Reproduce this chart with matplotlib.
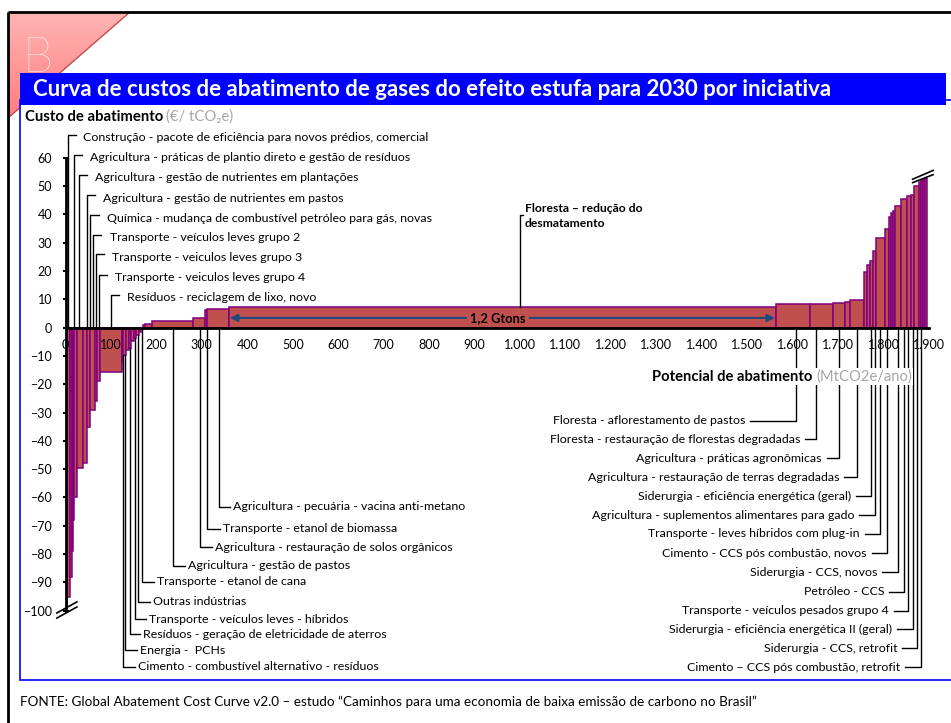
import numpy as np
import matplotlib.pyplot as plt
from matplotlib.patches import Rectangle, Polygon
from matplotlib.colors import to_rgb
from matplotlib.ticker import FuncFormatter

plt.rcParams['font.family'] = ['Lato', 'DejaVu Sans']

# --- data (MtCO2e/ano widths, €/tCO2e costs) ---
widths = [3, 7, 4, 2, 3, 6, 13, 9, 7, 11, 4, 8, 47, 3, 6, 6, 5, 6, 5, 7, 4, 5,
          4, 15, 91, 26, 5, 48, 1203, 76, 49, 27, 12, 31,
          6, 7, 6, 6, 21, 8, 4, 4, 6, 12, 14, 8, 8, 10, 5, 4, 4, 4]
costs = [-99, -95, -88, -79, -68, -60, -49.5, -47.7, -35, -29, -26, -18.7, -15.8,
         -12.2, -9.6, -7.9, -7.3, -4.9, -3.8, -2.6, -1.5, -0.6,
         0.8, 1.3, 2.3, 3.3, 6.2, 6.6, 7.2, 8.3, 8.5, 8.8, 9.2, 9.6,
         19.7, 22, 23.6, 27.1, 31.8, 34.9, 39, 40.4, 41, 43.1, 45.5, 46.3, 46.9,
         50.1, 51.5, 52, 52.5, 53]

top_labels = ['Construção - pacote de eficiência para novos prédios, comercial',
              'Agricultura - práticas de plantio direto e gestão de resíduos',
              'Agricultura - gestão de nutrientes em plantações',
              'Agricultura - gestão de nutrientes em pastos',
              'Química - mudança de combustível petróleo para gás, novas',
              'Transporte - veículos leves grupo 2',
              'Transporte - veiculos leves grupo 3',
              'Transporte - veiculos leves grupo 4',
              'Resíduos - reciclagem de lixo, novo']
top_x = [6, 19, 29, 47, 55, 60, 67, 73, 100]
top_tx = [38, 55, 65, 82, 91, 98, 103, 109, 136]
top_ty = [67.1, 60.1, 53.0, 45.7, 38.7, 31.8, 24.9, 17.7, 10.6]

bot_labels = ['Agricultura - pecuária - vacina anti-metano',
              'Transporte - etanol de biomassa',
              'Agricultura - restauração de solos orgânicos',
              'Agricultura - gestão de pastos',
              'Transporte - etanol de cana',
              'Outras indústrias',
              'Transporte - veículos leves - híbridos',
              'Resíduos - geração de eletricidade de aterros',
              'Energia -  PCHs',
              'Cimento - combustível alternativo - resíduos']
bot_x = [338, 312, 296, 237, 169, 160, 153, 142, 131, 127]
bot_tx = [368, 346, 329, 270, 201, 192, 184, 171, 164, 160]
bot_ty = [-63.3, -71.1, -77.6, -84.2, -89.8, -96.8, -103.0, -108.3, -113.9, -119.8]

right_labels = ['Floresta - aflorestamento de pastos',
                'Floresta - restauração de florestas degradadas',
                'Agricultura - práticas agronômicas',
                'Agricultura - restauração de terras degradadas',
                'Siderurgia - eficiência energética (geral)',
                'Agricultura - suplementos alimentares para gado',
                'Transporte - leves híbridos com plug-in',
                'Cimento - CCS pós combustão, novos',
                'Siderurgia - CCS, novos',
                'Petróleo - CCS',
                'Transporte - veículos pesados grupo 4',
                'Siderurgia - eficiência energética II (geral)',
                'Siderurgia - CCS, retrofit',
                'Cimento – CCS pós combustão, retrofit']
right_x = [1607, 1651, 1702, 1741, 1772, 1781, 1792, 1808, 1831, 1846, 1854, 1864, 1874, 1883]
right_tx = [1495, 1616, 1664, 1702, 1728, 1735, 1748, 1763, 1786, 1801, 1812, 1818, 1830, 1836]
right_ty = [-32.9, -39.4, -46.1, -52.9, -59.5, -66.2, -72.9, -79.7, -86.4, -93.3,
            -100, -106.6, -113.3, -120]

title = 'Curva de custos de abatimento de gases do efeito estufa para 2030 por iniciativa'
source = ('FONTE: Global Abatement Cost Curve v2.0 – estudo “Caminhos para uma economia '
          'de baixa emissão de carbono no Brasil”')

LFS = 8.9   # label font size

W, H = 951, 723
fig = plt.figure(figsize=(W / 100, H / 100), dpi=100)

# background layer in pixel coordinates
bg = fig.add_axes([0, 0, 1, 1])
bg.set_xlim(0, W)
bg.set_ylim(H, 0)
bg.axis('off')

# pink corner triangle, lighter at the top, deeper toward the bottom
c_top = np.array(to_rgb('#FFB4B4'))
c_bot = np.array(to_rgb('#FF7C7C'))
n = 24
for k in range(n):
    y0, y1 = 12 + 106 * k / n, 12 + 106 * (k + 1) / n
    col = c_top + (c_bot - c_top) * (k + 0.5) / n
    pts = [(8, y0), (8 + 122 * (118 - y0) / 106, y0), (8 + 122 * (118 - y1) / 106, y1), (8, y1)]
    bg.add_patch(Polygon(pts, closed=True, fc=col, ec=col, lw=0.5, zorder=1))
bg.plot([130, 8], [12, 118], color='#C0504D', lw=1, zorder=2)
bg.text(22, 72, 'B', color='white', fontsize=35, fontweight='light', va='baseline', zorder=3)

bg.add_patch(Rectangle((20, 100), 960, 580, fc='white', ec='#0000FF', lw=1.2, zorder=4))
bg.add_patch(Rectangle((20, 73), 926, 32, fc='#0000FF', ec='none', zorder=5))
bg.text(33, 90, title, color='white', fontweight='bold', fontsize=16, va='center', zorder=6)
bg.plot([8, 8], [12, H], color='black', lw=2, zorder=6, solid_capstyle='butt')
bg.plot([8, W], [12, 12], color='black', lw=2, zorder=6, solid_capstyle='butt')
bg.text(20, 702, source, fontsize=9.7, va='center')

# main chart
ax = fig.add_axes([65.5 / W, (H - 610.7) / H, 863.5 / W, 453 / H])
ax.set_zorder(1)
ax.patch.set_alpha(0)
ax.set_xlim(0, 1900)
ax.set_ylim(-100, 60)

edges = np.concatenate([[0], np.cumsum(widths)])
ax.bar(edges[:-1], costs, width=widths, align='edge', color='#C0504D',
       edgecolor='#800080', linewidth=1.1, zorder=2)


def cost_at(x):
    i = np.searchsorted(edges, x, side='right') - 1
    return costs[min(i, len(costs) - 1)]


for s in ['top', 'right']:
    ax.spines[s].set_visible(False)
ax.spines['bottom'].set_position(('data', 0))
ax.spines['bottom'].set_linewidth(2)
ax.spines['bottom'].set_zorder(5)
ax.spines['left'].set_linewidth(2)
ax.spines['left'].set_zorder(5)

ax.set_xticks(range(0, 2000, 100))
ax.xaxis.set_major_formatter(FuncFormatter(lambda v, p: f'{int(v):,}'.replace(',', '.')))
ax.tick_params(axis='x', length=0, pad=8.5, labelsize=9)
ax.set_yticks(range(-100, 70, 10))
ax.tick_params(axis='y', direction='inout', length=5, width=1.5, pad=7, labelsize=9)
ax.xaxis.set_zorder(4)
for t in ax.xaxis.get_major_ticks():
    if t.get_loc() >= 200:
        t.label1.set_bbox(dict(fc='white', ec='none', pad=1))

lk = dict(color='black', lw=1, clip_on=False, zorder=3)
for lab, lx, tx, ty in zip(top_labels, top_x, top_tx, top_ty):
    ax.plot([lx, lx, lx + 18], [0, ty + 1, ty + 1], **lk)
    ax.text(tx, ty, lab, fontsize=LFS, va='center', ha='left')

for lab, lx, tx, ty in zip(bot_labels, bot_x, bot_tx, bot_ty):
    ax.plot([lx, lx, tx - 7], [min(0, cost_at(lx)), ty, ty], **lk)
    ax.text(tx, ty, lab, fontsize=LFS, va='center', ha='left')

for lab, lx, tx, ty in zip(right_labels, right_x, right_tx, right_ty):
    ax.plot([lx, lx, tx + 11], [0, ty, ty], **lk)
    ax.text(tx, ty, lab, fontsize=LFS, va='center', ha='right')

# forest annotation
fx = 1000
ax.plot([fx, fx, fx + 6], [cost_at(fx), 39.8, 39.8], **lk)
ax.text(fx + 11, 42.2, 'Floresta – redução do', fontsize=8.7, fontweight='bold', va='center')
ax.text(fx + 11, 36.9, 'desmatamento', fontsize=8.7, fontweight='bold', va='center')

i_f = int(np.argmax(widths))
f0, f1 = edges[i_f], edges[i_f + 1]
gx = (f0 + f1) / 2 - 10
ay = 3.4
ax.text(gx, ay, '1,2 Gtons', fontsize=9.3, fontweight='bold', ha='center', va='center', zorder=4)
ap = dict(arrowstyle='-|>', color='#1F497D', lw=1.5, shrinkA=0, shrinkB=0, mutation_scale=11)
ax.annotate('', xy=(f0 + 2, ay), xytext=(gx - 70, ay), arrowprops=ap, zorder=4)
ax.annotate('', xy=(f1 - 2, ay), xytext=(gx + 70, ay), arrowprops=ap, zorder=4)

# axis breaks
bk = dict(color='black', lw=1.2, clip_on=False, zorder=6)
ax.plot([-19, 25], [-102.6, -98.7], **bk)
ax.plot([-19, 25], [-100.8, -96.9], **bk)
ax.plot([1864, 1909], [51.2, 54.0], **bk)
ax.plot([1864, 1909], [52.4, 55.5], **bk)

# axis titles
fig.canvas.draw()
r = fig.canvas.get_renderer()
inv = bg.transData.inverted()
t1 = bg.text(25, 117, 'Custo de abatimento', fontsize=10.7, fontweight='bold', va='center', zorder=7)
x1 = inv.transform((t1.get_window_extent(r).x1, 0))[0]
bg.text(x1 + 3, 117, '(€/ tCO₂e)', fontsize=10.7, color='#A6A6A6', va='center', zorder=7)

t2 = fig.text(911.7 / W, 1 - 376.7 / H, '(MtCO2e/ano)', fontsize=10.6, color='#A6A6A6',
              ha='right', va='center', zorder=7, bbox=dict(fc='white', ec='none', pad=1))
x2 = t2.get_window_extent(r).x0
fig.text(x2 / W - 4 / W, 1 - 376.7 / H, 'Potencial de abatimento', fontsize=10.6,
         fontweight='bold', ha='right', va='center', zorder=7,
         bbox=dict(fc='white', ec='none', pad=1))

fig.savefig('out.png', dpi=100)
